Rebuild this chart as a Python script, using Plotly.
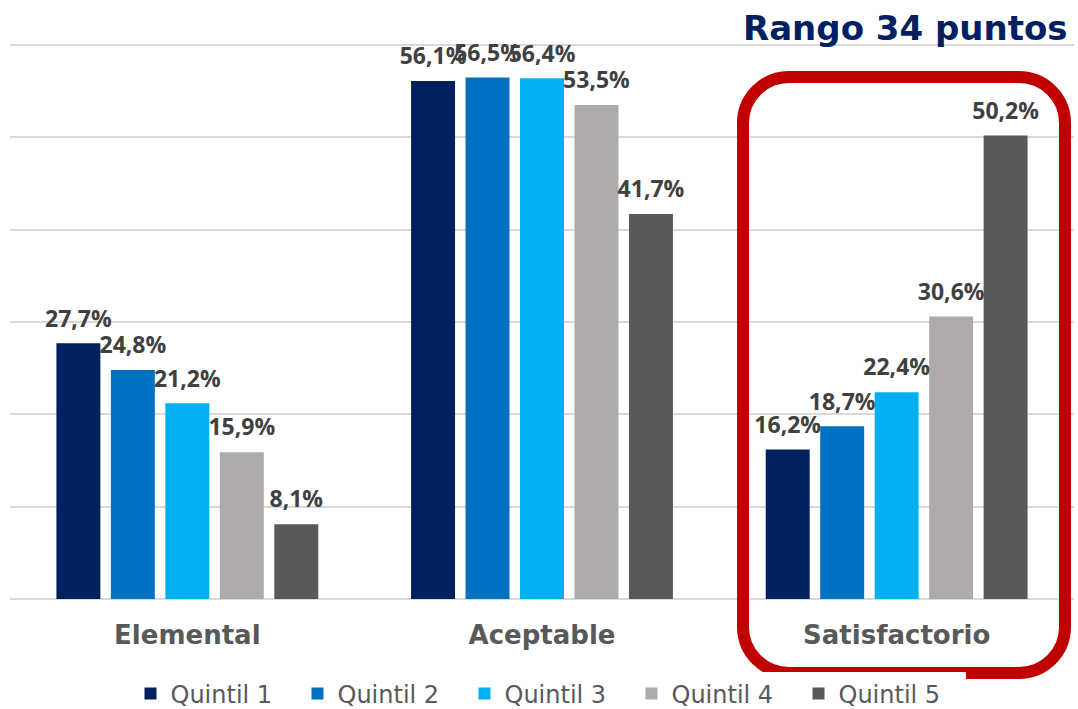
import plotly.graph_objects as go

categories = ["Elemental", "Aceptable", "Satisfactorio"]
series_names = ["Quintil 1", "Quintil 2", "Quintil 3", "Quintil 4", "Quintil 5"]
q1 = [27.7, 56.1, 16.2]
q2 = [24.8, 56.5, 18.7]
q3 = [21.2, 56.4, 22.4]
q4 = [15.9, 53.5, 30.6]
q5 = [8.1, 41.7, 50.2]
series_values = [q1, q2, q3, q4, q5]
colors = ["#002060", "#0070C0", "#00B0F0", "#AEAAAA", "#595959"]
title_text = "Rango 34 puntos"

W, H = 1078, 709
ML, MR, MT, MB = 10, 4, 44, 110
PW = W - ML - MR
PH = H - MT - MB
BARGAP = 0.232

fig = go.Figure()
for name, vals, col in zip(series_names, series_values, colors):
    fig.add_trace(go.Bar(
        x=categories, y=vals, name=name, marker=dict(color=col, line=dict(width=0)),
        hoverinfo="skip",
    ))
for name, vals in zip(series_names, series_values):
    fig.add_trace(go.Scatter(
        x=categories, y=vals, mode="markers+text", showlegend=False,
        marker=dict(size=16, opacity=0),
        texttemplate="%{y:.1f}%", textposition="top center",
        textfont=dict(family="Open Sans", size=23, color="#404040", weight=700),
        hoverinfo="skip", cliponaxis=False,
    ))

def px2paper(px, py):
    return (px - ML) / PW, (H - MB - py) / PH

def rounded_rect_path(x0, y0, x1, y1, r):
    k = 0.5523 * r
    def P(x, y):
        a, b = px2paper(x, y)
        return f"{a:.5f},{b:.5f}"
    path = f"M {P(x0 + r, y0)} L {P(x1 - r, y0)} "
    path += f"C {P(x1 - r + k, y0)} {P(x1, y0 + r - k)} {P(x1, y0 + r)} "
    path += f"L {P(x1, y1 - r)} "
    path += f"C {P(x1, y1 - r + k)} {P(x1 - r + k, y1)} {P(x1 - r, y1)} "
    path += f"L {P(x0 + r, y1)} "
    path += f"C {P(x0 + r - k, y1)} {P(x0, y1 - r + k)} {P(x0, y1 - r)} "
    path += f"L {P(x0, y0 + r)} "
    path += f"C {P(x0, y0 + r - k)} {P(x0 + r - k, y0)} {P(x0 + r, y0)} Z"
    return path

fig.add_shape(type="path", xref="paper", yref="paper",
              path=rounded_rect_path(743, 77, 1065, 673, 46),
              line=dict(color="#C00000", width=12), fillcolor="rgba(0,0,0,0)",
              layer="above")

tx, ty = px2paper(1070, 28)
fig.add_annotation(text=f"<b>{title_text}</b>", xref="paper", yref="paper",
                   x=tx, y=ty, xanchor="right", yanchor="middle", showarrow=False,
                   font=dict(family="DejaVu Sans", size=34, color="#002060"))

lx, ly = px2paper(548, 694)
fig.update_layout(
    width=W, height=H,
    margin=dict(l=ML, r=MR, t=MT, b=MB, autoexpand=False),
    paper_bgcolor="white", plot_bgcolor="white",
    barmode="group", bargap=BARGAP, bargroupgap=0.193,
    scattermode="group", scattergap=BARGAP,
    separators=",.",
    showlegend=True,
    legend=dict(orientation="h", x=lx, xanchor="center", y=ly,
                yanchor="middle", font=dict(family="DejaVu Sans", size=24, color="#595959"),
                entrywidth=122, entrywidthmode="pixels",
                itemclick=False, traceorder="normal"),
    xaxis=dict(showgrid=False, showline=False, zeroline=False, ticks="",
               tickfont=dict(family="DejaVu Sans", size=26, color="#595959", weight=700),
               ticklabelstandoff=18, fixedrange=True),
    yaxis=dict(range=[0, 60.12], tickvals=[0, 10, 20, 30, 40, 50, 60], showgrid=True,
               gridcolor="#D9D9D9", gridwidth=1.5,
               zeroline=True, zerolinecolor="#D9D9D9", zerolinewidth=1.5,
               showticklabels=False, showline=False, fixedrange=True),
)

fig.write_html("out.html", config={"displayModeBar": False},
               post_script="document.body.style.margin='0';document.body.style.padding='0';")
